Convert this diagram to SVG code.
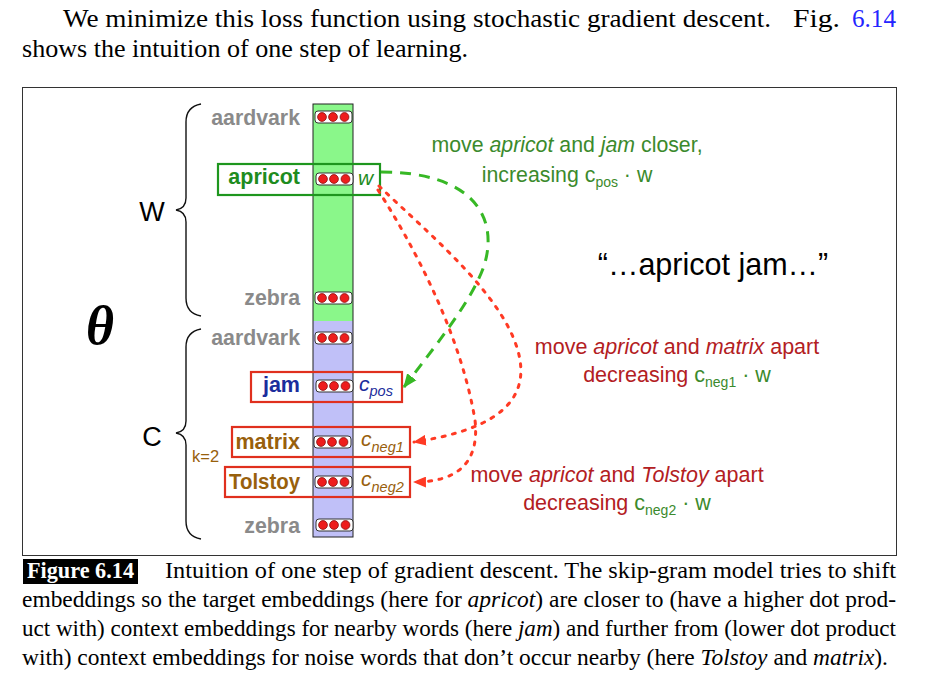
<svg xmlns="http://www.w3.org/2000/svg" width="929" height="677" viewBox="0 0 929 677">
<style>
.serif{font-family:"Liberation Serif","Times New Roman",serif;fill:#000}
.sans{font-family:"Liberation Sans",Arial,Helvetica,sans-serif}
.gray{font-family:"Liberation Sans",Arial,sans-serif;font-weight:bold;font-size:21.3px;fill:#8a8a8a;text-anchor:end}
.word{font-family:"Liberation Sans",Arial,sans-serif;font-weight:bold;font-size:21.5px;text-anchor:end}
.pill{fill:#fff;stroke:#333;stroke-width:1}
.dot{fill:#ee1d1d;stroke:#8a0d0d;stroke-width:0.8}
.gbox{fill:none;stroke:#1e961e;stroke-width:2.2}
.rbox{fill:none;stroke:#e0301e;stroke-width:2.2}
.green{fill:#3b8a2c}
.dred{fill:#b3201f}
.brown{fill:#98600c}
.blue{fill:#1b2d9c}
.gdash{fill:none;stroke:#37b825;stroke-width:3;stroke-dasharray:11 8}
.rdot{fill:none;stroke:#ff3a24;stroke-width:3;stroke-dasharray:3 7.5;stroke-linecap:round}
.brace{fill:none;stroke:#111;stroke-width:1.4}
</style>
<defs>
<marker id="ared" viewBox="0 0 12 10" refX="11" refY="5" markerWidth="13" markerHeight="11" markerUnits="userSpaceOnUse" orient="auto"><path d="M0,0 L12,5 L0,10 z" fill="#ff3a24"/></marker>
<marker id="agreen" viewBox="0 0 12 10" refX="11" refY="5" markerWidth="14" markerHeight="12" markerUnits="userSpaceOnUse" orient="auto"><path d="M0,0 L12,5 L0,10 z" fill="#37b825"/></marker>
<g id="vec"><rect class="pill" x="0" y="0" width="37" height="12" rx="3"/><circle class="dot" cx="7" cy="6" r="4.4"/><circle class="dot" cx="18" cy="6" r="4.4"/><circle class="dot" cx="29.5" cy="6" r="4.4"/></g>
</defs>
<rect width="929" height="677" fill="#fff"/>

<g id="intro">
<text class="serif" x="63" y="27" font-size="26" textLength="708" lengthAdjust="spacingAndGlyphs">We minimize this loss function using stochastic gradient descent.</text>
<text class="serif" x="793" y="27" font-size="26" textLength="47" lengthAdjust="spacingAndGlyphs">Fig.</text>
<text class="serif" x="852" y="27" font-size="26" style="fill:#2424ff" textLength="44" lengthAdjust="spacingAndGlyphs">6.14</text>
<text class="serif" x="22" y="57" font-size="26" textLength="446" lengthAdjust="spacingAndGlyphs">shows the intuition of one step of learning.</text>
</g>

<rect id="frame" x="22.5" y="87.5" width="874" height="468" fill="none" stroke="#333" stroke-width="1"/>

<g id="columns">
<rect x="313" y="104" width="40" height="217" fill="#8af78a" stroke="none"/>
<rect x="313" y="321" width="40" height="216" fill="#c0c0f8" stroke="none"/>
<rect x="313" y="104" width="40" height="433" fill="none" stroke="#222" stroke-width="1"/>
</g>

<g id="theta"><text x="86" y="344" font-family="Liberation Serif,'Times New Roman',serif" font-style="italic" font-weight="bold" font-size="54">θ</text></g>

<g id="W-brace">
<path class="brace" d="M201,104 C190,106 186,112 186,122 L186,198 C186,205 182,209 176,210 C182,211 186,215 186,222 L186,298 C186,308 190,314 201,316"/>
<text class="sans" x="152" y="221" font-size="27" text-anchor="middle">W</text>
</g>
<g id="C-brace">
<path class="brace" d="M201,329 C190,331 186,337 186,347 L186,421 C186,428 182,432 176,433 C182,434 186,438 186,445 L186,521 C186,531 190,537 201,539"/>
<text class="sans" x="152" y="446" font-size="27" text-anchor="middle">C</text>
<text class="sans brown" x="192" y="462" font-size="16.5">k=2</text>
</g>

<g id="w-aardvark"><text class="gray" x="300" y="125">aardvark</text><use href="#vec" x="315" y="111"/></g>
<g id="w-apricot">
<rect class="gbox" x="218" y="164" width="162" height="31"/>
<text class="word" x="300" y="184" fill="#1e8c1e">apricot</text>
<use href="#vec" x="316" y="173"/>
<text class="sans" x="358" y="185" font-size="21" font-style="italic" fill="#1e8c1e">w</text>
</g>
<g id="w-zebra"><text class="gray" x="300" y="305">zebra</text><use href="#vec" x="315" y="292"/></g>

<g id="c-aardvark"><text class="gray" x="300" y="345">aardvark</text><use href="#vec" x="315" y="332"/></g>
<g id="c-jam">
<rect class="rbox" x="251" y="372" width="151" height="30"/>
<text class="word" x="300" y="392" fill="#1b2d9c">jam</text>
<use href="#vec" x="316" y="380"/>
<text class="sans blue" x="359" y="391" font-size="21" font-style="italic">c<tspan font-size="14.5" dy="5">pos</tspan></text>
</g>
<g id="c-matrix">
<rect class="rbox" x="232" y="427" width="178" height="30"/>
<text class="word" x="300" y="449" fill="#98600c">matrix</text>
<use href="#vec" x="314" y="436"/>
<text class="sans brown" x="361" y="446" font-size="21" font-style="italic">c<tspan font-size="14.5" dy="6">neg1</tspan></text>
</g>
<g id="c-tolstoy">
<rect class="rbox" x="225" y="467" width="185" height="30"/>
<text class="word" x="300" y="489" fill="#98600c" font-size="20.5" textLength="71" lengthAdjust="spacingAndGlyphs">Tolstoy</text>
<use href="#vec" x="315" y="476"/>
<text class="sans brown" x="361" y="486" font-size="21" font-style="italic">c<tspan font-size="14.5" dy="6">neg2</tspan></text>
</g>
<g id="c-zebra"><text class="gray" x="300" y="533">zebra</text><use href="#vec" x="316" y="519"/></g>

<g id="connectors">
<path class="gdash" d="M381,172 C470,172 500,215 484,266 C472,300 440,340 404,387" marker-end="url(#agreen)"/>
<path class="rdot" d="M379,186 C430,235 510,300 520,360 C528,410 480,432 414,442" marker-end="url(#ared)"/>
<path class="rdot" d="M378,190 C410,240 460,330 475,420 C480,465 455,482 414,482" marker-end="url(#ared)"/>
</g>

<g id="labels">
<text class="sans green" x="567" y="152" font-size="21.3" text-anchor="middle">move <tspan font-style="italic">apricot</tspan> and <tspan font-style="italic">jam</tspan> closer,</text>
<text class="sans green" x="567" y="182" font-size="21.3" text-anchor="middle">increasing c<tspan font-size="14" dy="5">pos</tspan><tspan dy="-5"> · w</tspan></text>
<text class="sans" x="713" y="275" font-size="30.5" text-anchor="middle" fill="#000">“…apricot jam…”</text>
<text class="sans dred" x="677" y="354" font-size="21.5" text-anchor="middle">move <tspan font-style="italic">apricot</tspan> and <tspan font-style="italic">matrix</tspan> apart</text>
<text class="sans dred" x="677" y="382" font-size="21.5" text-anchor="middle">decreasing <tspan class="green">c</tspan><tspan class="green" font-size="14" dy="5">neg1</tspan><tspan class="green" dy="-5"> · w</tspan></text>
<text class="sans dred" x="617" y="482" font-size="21.5" text-anchor="middle">move <tspan font-style="italic">apricot</tspan> and <tspan font-style="italic">Tolstoy</tspan> apart</text>
<text class="sans dred" x="617" y="510" font-size="21.5" text-anchor="middle">decreasing <tspan class="green">c</tspan><tspan class="green" font-size="14" dy="5">neg2</tspan><tspan class="green" dy="-5"> · w</tspan></text>
</g>

<g id="caption">
<rect x="23" y="559" width="115" height="25" fill="#000"/>
<text x="27" y="578" font-family="Liberation Serif,'Times New Roman',serif" font-weight="bold" font-size="23" fill="#fff" textLength="107" lengthAdjust="spacingAndGlyphs">Figure 6.14</text>
<text class="serif" x="165" y="578" font-size="22.5" textLength="731" lengthAdjust="spacingAndGlyphs">Intuition of one step of gradient descent.  The skip-gram model tries to shift</text>
<text class="serif" x="22" y="607" font-size="22.5" textLength="874" lengthAdjust="spacingAndGlyphs">embeddings so the target embeddings (here for <tspan font-style="italic">apricot</tspan>) are closer to (have a higher dot prod-</text>
<text class="serif" x="22" y="636" font-size="22.5" textLength="874" lengthAdjust="spacingAndGlyphs">uct with) context embeddings for nearby words (here <tspan font-style="italic">jam</tspan>) and further from (lower dot product</text>
<text class="serif" x="22" y="665" font-size="22.5" textLength="866" lengthAdjust="spacingAndGlyphs">with) context embeddings for noise words that don’t occur nearby (here <tspan font-style="italic">Tolstoy</tspan> and <tspan font-style="italic">matrix</tspan>).</text>
</g>
</svg>
